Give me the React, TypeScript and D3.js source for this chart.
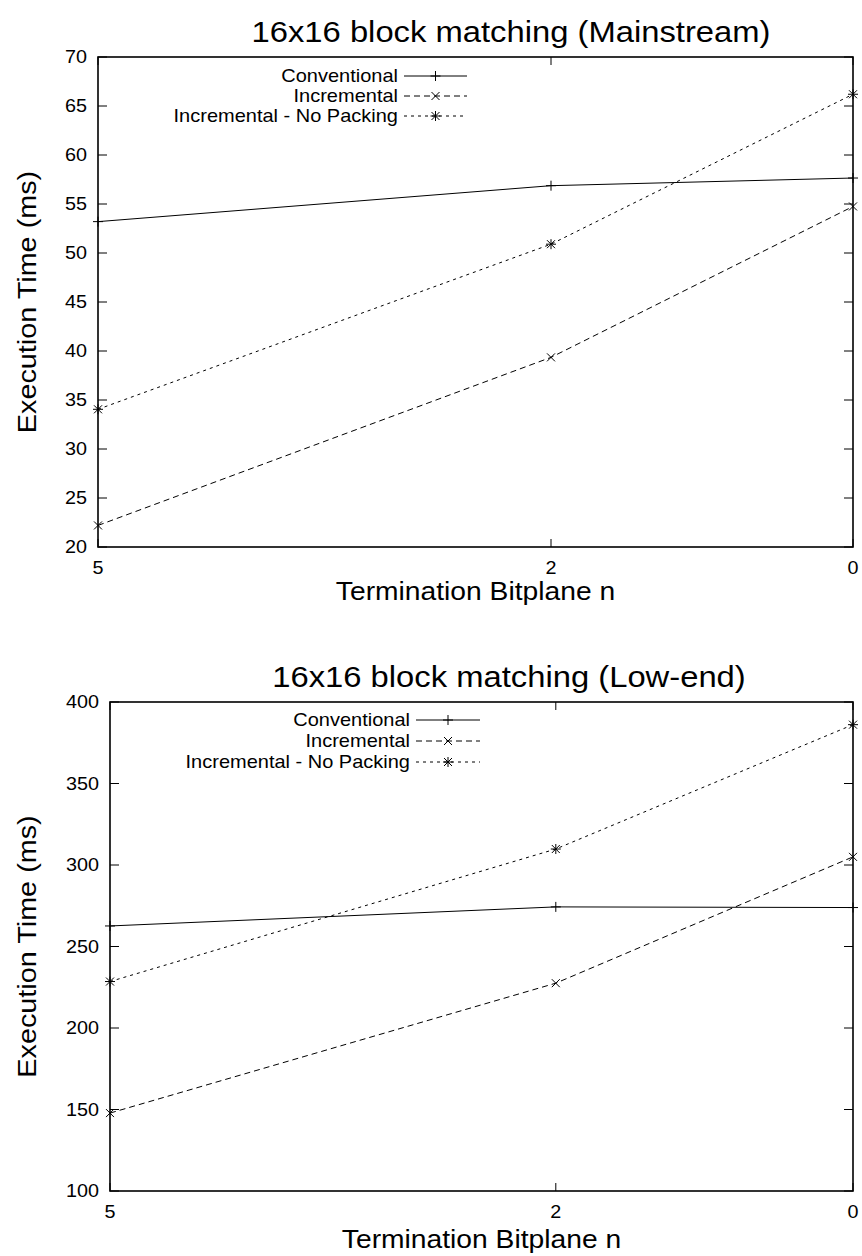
import React from "react";
import * as d3 from "d3";

const xValues = [5, 2, 0];
const xTicks = [5, 2, 0];
const seriesNames = ["Conventional", "Incremental", "Incremental - No Packing"];

const mainConventional = [53.2, 56.87, 57.65];
const mainIncremental = [22.2, 39.35, 54.75];
const mainNoPacking = [34.05, 50.9, 66.2];
const mainYTicks = [20, 25, 30, 35, 40, 45, 50, 55, 60, 65, 70];

const lowConventional = [262.6, 274.3, 273.9];
const lowIncremental = [147.8, 227.5, 305.0];
const lowNoPacking = [228.5, 309.8, 386.1];
const lowYTicks = [100, 150, 200, 250, 300, 350, 400];

const SX = 1.13;
const FONT = "'Liberation Sans', Arial, Helvetica, sans-serif";

type Panel = {
  title: string;
  series: number[][];
  yDomain: [number, number];
  yTicks: number[];
  left: number;
  right: number;
  top: number;
  bottom: number;
  titleX: number;
  titleY: number;
  xLabelDy: number;
  legendTextRight: number;
  legendLineX0: number;
  legendLineX1: number;
  legendY0: number;
  legendDy: number;
};

const panels: Panel[] = [
  {
    title: "16x16 block matching (Mainstream)",
    series: [mainConventional, mainIncremental, mainNoPacking],
    yDomain: [20, 70],
    yTicks: mainYTicks,
    left: 98,
    right: 853,
    top: 57,
    bottom: 547,
    titleX: 511,
    titleY: 32,
    xLabelDy: 45,
    legendTextRight: 398,
    legendLineX0: 404,
    legendLineX1: 467,
    legendY0: 76,
    legendDy: 20,
  },
  {
    title: "16x16 block matching (Low-end)",
    series: [lowConventional, lowIncremental, lowNoPacking],
    yDomain: [100, 400],
    yTicks: lowYTicks,
    left: 110,
    right: 853,
    top: 702,
    bottom: 1191,
    titleX: 509,
    titleY: 677,
    xLabelDy: 49,
    legendTextRight: 410,
    legendLineX0: 416,
    legendLineX1: 480,
    legendY0: 720,
    legendDy: 21,
  },
];

const dashes = [null, "6,4", "3,4"];

function Txt({ x, y, size, anchor = "middle", rotate = 0, children }: any) {
  return (
    <g transform={`translate(${x},${y}) rotate(${rotate}) scale(${SX},1)`}>
      <text
        x={0}
        y={0}
        fontSize={size}
        fontFamily={FONT}
        textAnchor={anchor}
        dominantBaseline="central"
        fill="#000"
      >
        {children}
      </text>
    </g>
  );
}

function Marker({ kind, x, y }: { kind: number; x: number; y: number }) {
  const plus = "M-5,0H5M0,-5V5";
  const cross = "M-4,-4L4,4M-4,4L4,-4";
  const d = kind === 0 ? plus : kind === 1 ? cross : plus + cross;
  return <path d={d} transform={`translate(${x},${y})`} stroke="#000" strokeWidth={1} fill="none" />;
}

function PanelView({ p }: { p: Panel }) {
  const x = d3.scaleLinear().domain([5, 0]).range([p.left, p.right]);
  const y = d3.scaleLinear().domain(p.yDomain).range([p.bottom, p.top]);
  const line = d3
    .line<number>()
    .x((_, i) => x(xValues[i]))
    .y((d) => y(d));
  const midY = (p.top + p.bottom) / 2;
  const midX = (p.left + p.right) / 2;
  return (
    <g>
      <Txt x={p.titleX} y={p.titleY} size={29}>
        {p.title}
      </Txt>
      {p.yTicks.map((t) => (
        <g key={"y" + t}>
          <line x1={p.left} x2={p.left + 9} y1={y(t)} y2={y(t)} stroke="#000" strokeWidth={1} />
          <line x1={p.right} x2={p.right - 9} y1={y(t)} y2={y(t)} stroke="#000" strokeWidth={1} />
          <Txt x={p.left - 11} y={y(t)} size={17.5} anchor="end">
            {t}
          </Txt>
        </g>
      ))}
      {xTicks.map((t) => (
        <g key={"x" + t}>
          <line x1={x(t)} x2={x(t)} y1={p.bottom} y2={p.bottom - 8} stroke="#000" strokeWidth={1} />
          <line x1={x(t)} x2={x(t)} y1={p.top} y2={p.top + 8} stroke="#000" strokeWidth={1} />
          <Txt x={x(t)} y={p.bottom + 21} size={17.5}>
            {t}
          </Txt>
        </g>
      ))}
      <Txt x={27} y={midY} size={25.5} rotate={-90}>
        Execution Time (ms)
      </Txt>
      <Txt x={midX} y={p.bottom + p.xLabelDy} size={25}>
        Termination Bitplane n
      </Txt>
      {p.series.map((vals, si) => (
        <g key={"s" + si}>
          <path
            d={line(vals) || ""}
            fill="none"
            stroke="#000"
            strokeWidth={1}
            strokeDasharray={dashes[si] || undefined}
          />
          {vals.map((v, i) => (
            <Marker key={i} kind={si} x={x(xValues[i])} y={y(v)} />
          ))}
        </g>
      ))}
      {seriesNames.map((name, si) => {
        const ly = p.legendY0 + si * p.legendDy;
        return (
          <g key={"l" + si}>
            <Txt x={p.legendTextRight} y={ly} size={17.7} anchor="end">
              {name}
            </Txt>
            <line
              x1={p.legendLineX0}
              x2={p.legendLineX1}
              y1={ly}
              y2={ly}
              stroke="#000"
              strokeWidth={1}
              strokeDasharray={dashes[si] || undefined}
            />
            <Marker kind={si} x={(p.legendLineX0 + p.legendLineX1) / 2} y={ly} />
          </g>
        );
      })}
      <rect
        x={p.left}
        y={p.top}
        width={p.right - p.left}
        height={p.bottom - p.top}
        fill="none"
        stroke="#000"
        strokeWidth={1.6}
      />
    </g>
  );
}

export default function App() {
  return (
    <svg
      width={862}
      height={1256}
      viewBox="0 0 862 1256"
      style={{ position: "absolute", left: 0, top: 0, background: "#fff" }}
    >
      <rect x={0} y={0} width={862} height={1256} fill="#fff" />
      {panels.map((p, i) => (
        <PanelView key={i} p={p} />
      ))}
    </svg>
  );
}
